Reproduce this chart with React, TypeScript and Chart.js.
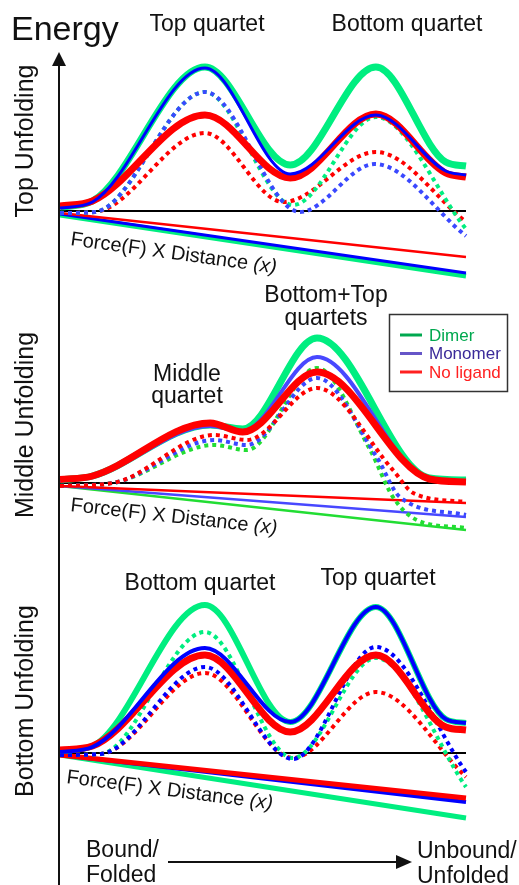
import { useEffect, useRef } from "react";
import { Chart, registerables } from "chart.js";

Chart.register(...registerables);

// ---------- DATA (reaction coordinate 0 = bound/folded ... 1 = unbound/unfolded; energy in arbitrary units) ----------
// Panel 1: Top Unfolding
const TOP_SOLID_X = [0, 0.08, 0.357, 0.567, 0.778, 0.95, 1.0];
const TOP_DIMER = [0.4, 1.0, 14.4, 4.6, 14.4, 4.9, 4.5];
const TOP_MONOMER = [0.3, 0.9, 14.3, 3.7, 9.6, 4.0, 3.6];
const TOP_NOLIG = [0.5, 1.0, 9.6, 3.3, 9.7, 3.8, 3.4];
const TOP_DIMER_F_X = [0, 0.086, 0.357, 0.574, 0.778, 1.0];
const TOP_DIMER_F = [-0.2, -0.1, 11.9, 0.6, 9.4, -1.8];
const TOP_MONOMER_F_X = [0, 0.086, 0.357, 0.591, 0.775, 1.0];
const TOP_MONOMER_F = [-0.2, -0.1, 11.9, -0.1, 4.7, -2.5];
const TOP_NOLIG_F_X = [0, 0.086, 0.357, 0.55, 0.778, 1.0];
const TOP_NOLIG_F = [-0.2, -0.1, 7.8, 0.9, 5.9, -1.1];
const TOP_FORCE = { dimer: [-0.4, -6.5], monomer: [-0.3, -6.2], noLigand: [-0.2, -4.6] };

// Panel 2: Middle Unfolding
const MID_SOLID_X = [0, 0.08, 0.37, 0.45, 0.633, 0.91, 1.0];
const MID_DIMER = [0.3, 0.7, 5.8, 5.4, 14.5, 0.5, 0.3];
const MID_MONOMER = [0.25, 0.6, 5.7, 5.2, 12.6, 0.4, 0.2];
const MID_NOLIG = [0.35, 0.7, 6.0, 5.1, 11.1, 0.4, 0.1];
const MID_DIMER_F_X = [0, 0.13, 0.38, 0.46, 0.633, 0.764, 0.82, 0.879, 1.0];
const MID_DIMER_F = [-0.3, 0, 3.8, 3.3, 11.5, 3.3, -1.4, -3.7, -4.5];
const MID_MONOMER_F_X = [0, 0.13, 0.38, 0.46, 0.633, 0.78, 0.837, 1.0];
const MID_MONOMER_F = [-0.3, 0, 4.3, 3.8, 10.5, 2.6, -1.4, -3.2];
const MID_NOLIG_F_X = [0, 0.13, 0.38, 0.46, 0.633, 0.82, 0.87, 1.0];
const MID_NOLIG_F = [-0.3, 0, 4.8, 4.3, 9.5, 1.3, -1.0, -1.9];
const MID_FORCE = { dimer: [-0.3, -4.7], monomer: [-0.3, -3.4], noLigand: [-0.3, -2.0] };

// Panel 3: Bottom Unfolding
const BOT_SOLID_X = [0, 0.08, 0.357, 0.567, 0.778, 0.95, 1.0];
const BOT_DIMER = [0.2, 0.7, 14.8, 3.1, 14.6, 3.4, 3.0];
const BOT_MONOMER = [0.1, 0.6, 10.5, 3.1, 14.6, 3.4, 3.0];
const BOT_NOLIG = [0.3, 0.7, 9.8, 2.1, 9.8, 2.6, 2.3];
const BOT_F_X = [0, 0.1, 0.357, 0.574, 0.778, 1.0];
const BOT_DIMER_F = [-0.2, -0.1, 12.1, -0.5, 9.5, -3.4];
const BOT_MONOMER_F = [-0.2, -0.1, 8.6, -0.6, 10.6, -1.9];
const BOT_NOLIG_F = [-0.2, -0.1, 8.0, -0.5, 6.1, -2.4];
const BOT_FORCE = { dimer: [-0.2, -6.5], monomer: [-0.2, -4.9], noLigand: [-0.2, -4.5] };

const FORCE_X = [0, 1];
const BASELINE_X = [0, 1];
const BASELINE_Y = [0, 0];

const LEGEND_LABELS = ["Dimer", "Monomer", "No ligand"];

// ---------- LAYOUT / STYLE ----------
const W = 519;
const H = 885;
const PANEL_OFFSETS = [67.4, 40.2, 13.2];
const GREEN = "#00ee80";
const BLUE = "#0000ff";
const RED = "#ff0000";
const DOT_BLUE = "#3a48ff";
const MID_BLUE = "#4848ff";
const MID_GREEN = "#22dd33";
const FONT = '"Liberation Sans", Arial, Helvetica, sans-serif';

function series(off: number, xs: number[], ys: number[], color: string, width: number, dotted = false) {
  return {
    data: xs.map((x, i) => ({ x, y: off + ys[i] })),
    borderColor: color,
    backgroundColor: color,
    borderWidth: width,
    borderDash: dotted ? [4, 4] : [],
    borderCapStyle: "butt" as const,
    pointRadius: 0,
    pointHoverRadius: 0,
    cubicInterpolationMode: "monotone" as const,
    fill: false,
  };
}

function buildDatasets() {
  const [o1, o2, o3] = PANEL_OFFSETS;
  const list: any[] = [
    // panel 1 (bottom layer first)
    series(o1, BASELINE_X, BASELINE_Y, "#000000", 2),
    series(o1, FORCE_X, TOP_FORCE.dimer, GREEN, 5),
    series(o1, FORCE_X, TOP_FORCE.monomer, BLUE, 3),
    series(o1, FORCE_X, TOP_FORCE.noLigand, RED, 2.5),
    series(o1, TOP_NOLIG_F_X, TOP_NOLIG_F, RED, 4, true),
    series(o1, TOP_DIMER_F_X, TOP_DIMER_F, GREEN, 4, true),
    series(o1, TOP_MONOMER_F_X, TOP_MONOMER_F, DOT_BLUE, 4, true),
    series(o1, TOP_SOLID_X, TOP_DIMER, GREEN, 7),
    series(o1, TOP_SOLID_X, TOP_NOLIG, RED, 7),
    series(o1, TOP_SOLID_X, TOP_MONOMER, BLUE, 3),
    // panel 2
    series(o2, BASELINE_X, BASELINE_Y, "#000000", 2),
    series(o2, FORCE_X, MID_FORCE.dimer, MID_GREEN, 2.5),
    series(o2, FORCE_X, MID_FORCE.monomer, MID_BLUE, 2.5),
    series(o2, FORCE_X, MID_FORCE.noLigand, RED, 2.5),
    series(o2, MID_DIMER_F_X, MID_DIMER_F, MID_GREEN, 4, true),
    series(o2, MID_MONOMER_F_X, MID_MONOMER_F, DOT_BLUE, 4, true),
    series(o2, MID_NOLIG_F_X, MID_NOLIG_F, RED, 4, true),
    series(o2, MID_SOLID_X, MID_DIMER, GREEN, 7),
    series(o2, MID_SOLID_X, MID_MONOMER, MID_BLUE, 4),
    series(o2, MID_SOLID_X, MID_NOLIG, RED, 7),
    // panel 3
    series(o3, BASELINE_X, BASELINE_Y, "#000000", 2),
    series(o3, FORCE_X, BOT_FORCE.dimer, GREEN, 5),
    series(o3, FORCE_X, BOT_FORCE.monomer, BLUE, 4),
    series(o3, FORCE_X, BOT_FORCE.noLigand, RED, 5),
    series(o3, BOT_F_X, BOT_NOLIG_F, RED, 4, true),
    series(o3, BOT_F_X, BOT_DIMER_F, GREEN, 4, true),
    series(o3, BOT_F_X, BOT_MONOMER_F, BLUE, 4, true),
    series(o3, BOT_SOLID_X, BOT_DIMER, GREEN, 6),
    series(o3, BOT_SOLID_X, BOT_NOLIG, RED, 7),
    series(o3, BOT_SOLID_X, BOT_MONOMER, BLUE, 4),
  ];
  list.forEach((d, i) => (d.order = -i));
  return list;
}

const annotate = {
  id: "annotate",
  afterDatasetsDraw(chart: any) {
    const ctx: CanvasRenderingContext2D = chart.ctx;
    const xs = chart.scales.x;
    const axisX = Math.round(xs.getPixelForValue(0)) - 1;
    ctx.save();
    ctx.fillStyle = "#111";
    ctx.strokeStyle = "#111";

    // vertical energy axis with arrow
    ctx.lineWidth = 2;
    ctx.beginPath();
    ctx.moveTo(axisX, 62);
    ctx.lineTo(axisX, H);
    ctx.stroke();
    ctx.beginPath();
    ctx.moveTo(axisX, 52);
    ctx.lineTo(axisX - 7, 66);
    ctx.lineTo(axisX + 7, 66);
    ctx.closePath();
    ctx.fill();

    // horizontal reaction arrow
    ctx.beginPath();
    ctx.moveTo(168, 862);
    ctx.lineTo(398, 862);
    ctx.stroke();
    ctx.beginPath();
    ctx.moveTo(412, 862);
    ctx.lineTo(396, 855);
    ctx.lineTo(396, 869);
    ctx.closePath();
    ctx.fill();

    ctx.textBaseline = "alphabetic";
    // Energy
    ctx.font = `34px ${FONT}`;
    ctx.textAlign = "left";
    ctx.fillText("Energy", 11, 40);

    // quartet labels
    ctx.font = `23px ${FONT}`;
    ctx.textAlign = "center";
    ctx.fillText("Top quartet", 207, 31);
    ctx.fillText("Bottom quartet", 407, 31);
    ctx.fillText("Bottom+Top", 326, 302);
    ctx.fillText("quartets", 326, 325);
    ctx.fillText("Middle", 187, 381);
    ctx.fillText("quartet", 187, 403);
    ctx.fillText("Bottom quartet", 200, 590);
    ctx.fillText("Top quartet", 378, 585);

    ctx.textAlign = "left";
    ctx.fillText("Bound/", 86, 857);
    ctx.fillText("Folded", 86, 882);
    ctx.fillText("Unbound/", 417, 858);
    ctx.fillText("Unfolded", 417, 883);

    // rotated panel labels
    ctx.font = `25px ${FONT}`;
    ctx.textAlign = "center";
    const rot = (t: string, y: number) => {
      ctx.save();
      ctx.translate(33, y);
      ctx.rotate(-Math.PI / 2);
      ctx.fillText(t, 0, 0);
      ctx.restore();
    };
    rot("Top Unfolding", 141);
    rot("Middle Unfolding", 425);
    rot("Bottom Unfolding", 701);

    // force x distance labels
    const force = (x: number, y: number, deg: number) => {
      ctx.save();
      ctx.translate(x, y);
      ctx.rotate((deg * Math.PI) / 180);
      ctx.textAlign = "left";
      ctx.font = `20px ${FONT}`;
      const a = "Force(F) X Distance ";
      ctx.fillText(a, 0, 0);
      const wa = ctx.measureText(a).width;
      ctx.font = `italic 20px ${FONT}`;
      ctx.fillText("(x)", wa, 0);
      ctx.restore();
    };
    force(70, 245, 7.8);
    force(70, 511, 6.4);
    force(66, 783, 7.3);

    // legend
    ctx.lineWidth = 1.5;
    ctx.strokeStyle = "#333";
    ctx.strokeRect(389.5, 314.5, 118, 77);
    const legColors = ["#00a84f", "#6656c8", "#ff2020"];
    const legText = ["#00a84f", "#3a2a99", "#ff2020"];
    ctx.font = `17px ${FONT}`;
    ctx.textAlign = "left";
    ctx.textBaseline = "middle";
    LEGEND_LABELS.forEach((lab, i) => {
      const y = 335 + i * 18.5;
      ctx.strokeStyle = legColors[i];
      ctx.lineWidth = 3;
      ctx.beginPath();
      ctx.moveTo(400, y);
      ctx.lineTo(422, y);
      ctx.stroke();
      ctx.fillStyle = legText[i];
      ctx.fillText(lab, 429, y + 1);
    });
    ctx.restore();
  },
};

export default function App() {
  const ref = useRef<HTMLCanvasElement | null>(null);
  useEffect(() => {
    document.body.style.margin = "0";
    if (!ref.current) return;
    const x0 = 60;
    const span = 406;
    const chart = new Chart(ref.current, {
      type: "line",
      data: { datasets: buildDatasets() },
      options: {
        responsive: false,
        animation: false,
        devicePixelRatio: 1,
        layout: { padding: 0 },
        events: [],
        plugins: { legend: { display: false }, tooltip: { enabled: false }, title: { display: false } },
        scales: {
          x: { type: "linear", min: -x0 / span, max: (W - x0) / span, display: false },
          y: { type: "linear", min: 0, max: H / 10, display: false },
        },
      },
      plugins: [annotate],
    });
    return () => chart.destroy();
  }, []);
  return (
    <div style={{ width: W, height: H, overflow: "hidden", background: "#fff" }}>
      <canvas ref={ref} width={W} height={H} style={{ display: "block" }} />
    </div>
  );
}
